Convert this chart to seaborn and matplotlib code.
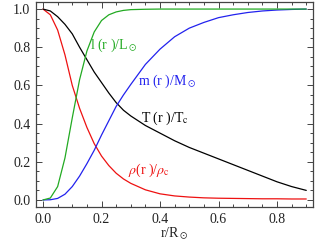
import matplotlib
matplotlib.use("Agg")
import matplotlib.pyplot as plt
import seaborn as sns
import pandas as pd
from matplotlib.ticker import MultipleLocator

r = [0, 0.025, 0.05, 0.075, 0.1, 0.125, 0.15, 0.175, 0.2, 0.225, 0.25, 0.275, 0.3,
     0.35, 0.4, 0.45, 0.5, 0.55, 0.6, 0.65, 0.7, 0.75, 0.8, 0.85, 0.9]
temp = [1.0, 0.99, 0.96, 0.92, 0.87, 0.80, 0.735, 0.67, 0.615, 0.56, 0.51, 0.47, 0.44,
        0.39, 0.35, 0.31, 0.275, 0.245, 0.215, 0.185, 0.155, 0.125, 0.095, 0.07, 0.05]
lum = [0.0, 0.01, 0.07, 0.22, 0.43, 0.63, 0.78, 0.88, 0.94, 0.97, 0.985, 0.993, 0.997,
       0.999, 1.0, 1.0, 1.0, 1.0, 1.0, 1.0, 1.0, 1.0, 1.0, 1.0, 1.0]
mass = [0.0, 0.001, 0.008, 0.03, 0.07, 0.125, 0.19, 0.26, 0.34, 0.415, 0.49, 0.55, 0.605,
        0.71, 0.79, 0.855, 0.9, 0.93, 0.955, 0.97, 0.982, 0.99, 0.995, 0.998, 1.0]
dens = [1.0, 0.97, 0.89, 0.76, 0.60, 0.48, 0.38, 0.295, 0.23, 0.18, 0.14, 0.11, 0.087,
        0.053, 0.032, 0.021, 0.015, 0.011, 0.009, 0.008, 0.007, 0.006, 0.006, 0.005, 0.005]

series_labels = [r"l (r )/L$_\odot$", r"m (r )/M$_\odot$", r"T (r )/T$_{\rm c}$",
                 r"$\rho$(r )/$\rho_{\rm c}$"]

sns.set_style("ticks")
plt.rcParams["font.family"] = ["Liberation Serif", "DejaVu Serif"]
plt.rcParams["mathtext.fontset"] = "stix"

green = "#22aa22"
blue = "#2222ee"
red = "#ee1111"
black = "#000000"

df = pd.DataFrame({"r": r, "T": temp, "l": lum, "m": mass, "rho": dens})

fig = plt.figure(figsize=(3.16, 2.45), dpi=100)
ax = fig.add_axes([36/316, 1-207/245, (313-36)/316, (207-2)/245])

lw = 0.9
sns.lineplot(data=df, x="r", y="rho", color=red, lw=lw, ax=ax)
sns.lineplot(data=df, x="r", y="T", color=black, lw=lw, ax=ax)
sns.lineplot(data=df, x="r", y="m", color=blue, lw=lw, ax=ax)
sns.lineplot(data=df, x="r", y="l", color=green, lw=lw, ax=ax)

fs = 10
ax.text(0.16, 0.81, series_labels[0], color=green, fontsize=fs, va="center", ha="left")
ax.text(0.325, 0.62, series_labels[1], color=blue, fontsize=fs, va="center", ha="left")
ax.text(0.335, 0.43, series_labels[2], color=black, fontsize=fs, va="center", ha="left")
ax.text(0.29, 0.157, series_labels[3], color=red, fontsize=fs, va="center", ha="left")

ax.set_xlim(-0.024, 0.923)
ax.set_ylim(-0.037, 1.037)
ax.xaxis.set_major_locator(MultipleLocator(0.2))
ax.xaxis.set_minor_locator(MultipleLocator(0.05))
ax.yaxis.set_major_locator(MultipleLocator(0.2))
ax.yaxis.set_minor_locator(MultipleLocator(0.05))
ax.xaxis.set_major_formatter(matplotlib.ticker.FormatStrFormatter("%.1f"))
ax.yaxis.set_major_formatter(matplotlib.ticker.FormatStrFormatter("%.1f"))
ax.tick_params(which="both", direction="in", top=True, right=True, colors="#444444",
               labelcolor="#222222", labelsize=10, width=0.7)
ax.tick_params(which="major", length=4, pad=4)
ax.tick_params(which="minor", length=2)
for s in ax.spines.values():
    s.set_color("#444444")
    s.set_linewidth(0.9)

ax.set_xlabel(r"r/R$_\odot$", fontsize=10, color="#222222", labelpad=0)
ax.set_ylabel("")

fig.savefig("out.png", dpi=100)
